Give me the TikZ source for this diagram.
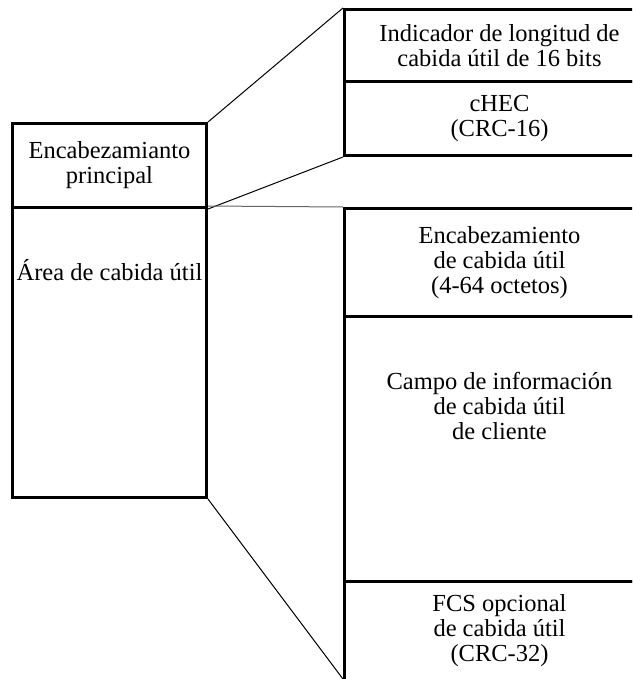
\documentclass[tikz,border=0pt]{standalone}
\usepackage{fontspec}
\setmainfont{Liberation Serif}
\usetikzlibrary{positioning,calc}

\begin{document}
\begin{tikzpicture}[x=1pt, y=-1pt,
            txt/.style={align=center, inner sep=0pt, font=\fontsize{24.5}{25}\selectfont},
            box/.style={txt, draw, line width=3pt, rectangle, anchor=north west},
            fan/.style={line width=1pt}
        ]
          \useasboundingbox (0,0) rectangle (632,679);
          \clip (0,0) rectangle (632,679);
          \node[box, minimum width=194pt, minimum height=84pt] (hdr) at (11,122)
                {Encabezamianto\\principal};
          \node[box, minimum width=194pt, minimum height=290pt] (area) at (11,206) {};
          \node[txt] (areatxt) at ($(area.north)+(0,64)$) {\'Area de cabida \'util};
          \node[box, minimum width=310pt, minimum height=72pt] (ind) at (343,8)
                {Indicador de longitud de\\cabida \'util de 16 bits};
          \node[box, minimum width=310pt, minimum height=74pt] (chec) at (343,80)
                {cHEC\\(CRC-16)};
          \node[box, minimum width=310pt, minimum height=108pt] (phdr) at (343,207)
                {Encabezamiento\\de cabida \'util\\(4-64 octetos)};
          \node[box, minimum width=310pt, minimum height=265pt] (info) at (343,315) {};
          \node[txt] (infotxt) at ($(info.north)+(0,91)$)
                {Campo de informaci\'on\\de cabida \'util\\de cliente};
          \node[box, minimum width=310pt, minimum height=120pt] (fcs) at (343,580)
                {FCS opcional\\de cabida \'util\\(CRC-32)\\[2pt]};
          \coordinate (end) at (343,679);
          \path[fan]
          (hdr.north east) edge (ind.north west)
          (hdr.south east) edge (chec.south west)
          (area.north east) edge[black!60] (phdr.north west)
          (area.south east) edge (end)
                ;
        \end{tikzpicture}
\end{document}
